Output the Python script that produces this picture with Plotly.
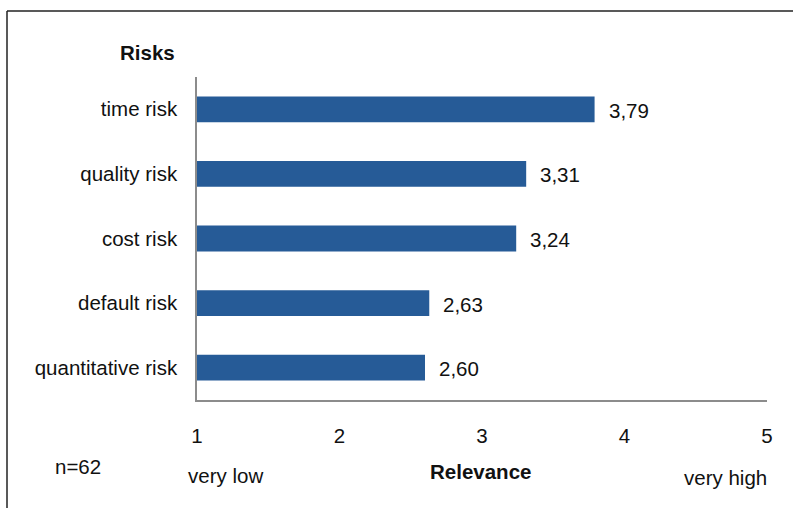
import plotly.graph_objects as go

# Risk categories, top to bottom, with mean relevance scores (scale 1-5)
categories = ["time risk", "quality risk", "cost risk", "default risk", "quantitative risk"]
values = [3.79, 3.31, 3.24, 2.63, 2.60]
x_ticks = [1, 2, 3, 4, 5]

W, H = 793, 508
L, R, T, B = 197, 767, 77, 400  # plot area in pixels


def px(x):
    return (x - L) / (R - L)


def py(y):
    return (B - y) / (B - T)


FONT = "Liberation Sans, Arial, sans-serif"
FS = 20.5
BAR = "#265b97"

fig = go.Figure()
fig.add_trace(go.Bar(
    x=values,
    y=categories,
    orientation="h",
    marker=dict(color=BAR, line=dict(width=0)),
    width=0.4,
    hoverinfo="skip",
))

# value labels beside each bar end, with decimal comma
for cat, v in zip(categories, values):
    fig.add_annotation(
        x=v, y=cat, xref="x", yref="y",
        text=f"{v:.2f}".replace(".", ","),
        showarrow=False, xanchor="left", yanchor="middle",
        xshift=12, yshift=-1,
        font=dict(family=FONT, size=FS, color="#111111"),
    )

texts = [
    dict(text="<b>Risks</b>", x=px(177), y=py(52), xanchor="right"),
    dict(text="n=62", x=px(78), y=py(466), xanchor="center"),
    dict(text="very low", x=px(225), y=py(475), xanchor="center"),
    dict(text="<b>Relevance</b>", x=px(480), y=py(471), xanchor="center"),
    dict(text="very high", x=px(725), y=py(477), xanchor="center"),
]
for t in texts:
    fig.add_annotation(
        text=t["text"], x=t["x"], y=t["y"], xref="paper", yref="paper",
        xanchor=t["xanchor"], yanchor="middle", showarrow=False,
        font=dict(family=FONT, size=FS, color="#111111"),
    )

# outer frame (top and left edges)
frame = dict(color="#222222", width=1.5)
fig.add_shape(type="line", xref="paper", yref="paper",
              x0=px(7), x1=px(800), y0=py(11), y1=py(11), line=frame)
fig.add_shape(type="line", xref="paper", yref="paper",
              x0=px(7), x1=px(7), y0=py(11), y1=py(520), line=frame)

fig.update_layout(
    width=W, height=H,
    margin=dict(l=L, r=W - R, t=T, b=H - B),
    paper_bgcolor="white", plot_bgcolor="white",
    showlegend=False,
    xaxis=dict(
        range=[1, 5], tickvals=x_ticks, ticktext=[str(t) for t in x_ticks],
        showgrid=False, zeroline=False,
        showline=True, linecolor="#8c8c8c", linewidth=1.5,
        ticks="", ticklabelstandoff=17,
        tickfont=dict(family=FONT, size=FS, color="#111111"),
    ),
    yaxis=dict(
        autorange="reversed",
        showgrid=False, zeroline=False,
        showline=True, linecolor="#8c8c8c", linewidth=1.5,
        ticks="", ticklabelstandoff=14,
        tickfont=dict(family=FONT, size=FS, color="#111111"),
    ),
)

fig.write_html("out.html")
